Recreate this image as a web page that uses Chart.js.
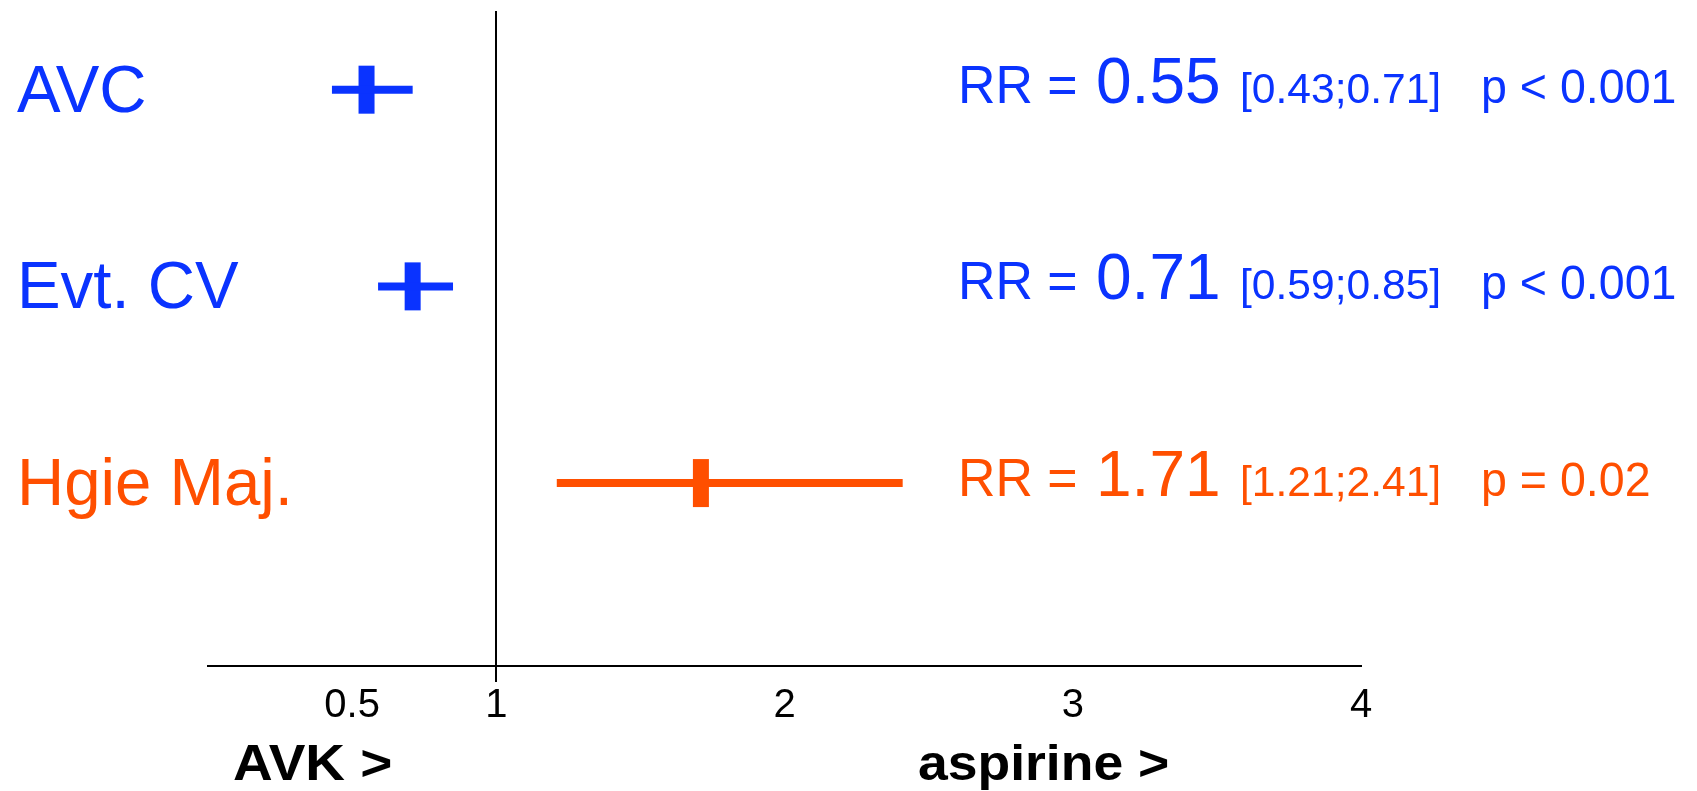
<!DOCTYPE html>
<html>
<head>
<meta charset="utf-8">
<title>RR AVK vs aspirine</title>
<script src="https://cdn.jsdelivr.net/npm/chart.js@4.4.1/dist/chart.umd.min.js"></script>
<style>
  html, body { margin: 0; padding: 0; background: #fff; }
  canvas { display: block; }
</style>
</head>
<body>
<canvas id="forestChart" width="1697" height="791"></canvas>
<script>
const categories = ['AVC', 'Evt. CV', 'Hgie Maj.'];
const rowPos = [3, 2, 1];
const rr = [0.55, 0.71, 1.71];
const ciLow = [0.43, 0.59, 1.21];
const ciHigh = [0.71, 0.85, 2.41];
const pTexts = ['p < 0.001', 'p < 0.001', 'p = 0.02'];
const tickValues = [0.5, 1, 2, 3, 4];
const leftLabel = 'AVK >';
const rightLabel = 'aspirine >';

const BLUE = '#0a33ff';
const ORANGE = '#ff4f00';
const rowColors = [BLUE, BLUE, ORANGE];
const FONT = "'Liberation Sans', Arial, sans-serif";

// text is a bit condensed in the original, so squeeze it horizontally
function drawText(ctx, text, x, y, font, sx) {
  ctx.save();
  ctx.translate(x, y);
  ctx.scale(sx, 1);
  ctx.font = font;
  ctx.fillText(text, 0, 0);
  ctx.restore();
}

// reference line at RR = 1, row labels and the RR text on the right
const forestText = {
  id: 'forestText',
  beforeDatasetsDraw(chart) {
    const { ctx, chartArea, scales } = chart;
    const x1 = Math.round(scales.x.getPixelForValue(1));
    ctx.save();
    ctx.strokeStyle = '#000';
    ctx.lineWidth = 2;
    ctx.beginPath();
    ctx.moveTo(x1, chartArea.top);
    ctx.lineTo(x1, chartArea.bottom + 16);
    ctx.stroke();
    ctx.restore();
  },
  afterDraw(chart) {
    const { ctx, scales } = chart;
    ctx.save();
    ctx.textBaseline = 'alphabetic';
    ctx.textAlign = 'left';
    categories.forEach((name, i) => {
      const y = scales.y.getPixelForValue(rowPos[i]);
      ctx.fillStyle = rowColors[i];
      drawText(ctx, name, 17, y + 22, '66px ' + FONT, 0.99);
      drawText(ctx, 'RR =', 958, y + 13, '54px ' + FONT, 0.96);
      drawText(ctx, rr[i].toFixed(2), 1096, y + 13, '64px ' + FONT, 1.0);
      drawText(ctx, '[' + ciLow[i].toFixed(2) + ';' + ciHigh[i].toFixed(2) + ']', 1240, y + 13, '43px ' + FONT, 0.99);
      drawText(ctx, pTexts[i], 1481, y + 13, '48px ' + FONT, 0.97);
    });

    ctx.fillStyle = '#000';
    drawText(ctx, leftLabel, 233, 780, 'bold 50px ' + FONT, 1.1);
    drawText(ctx, rightLabel, 918, 780, 'bold 50px ' + FONT, 1.07);
    ctx.restore();
  }
};

const datasets = [];
categories.forEach((name, i) => {
  datasets.push({
    type: 'line',
    label: name + ' IC',
    data: [{ x: ciLow[i], y: rowPos[i] }, { x: ciHigh[i], y: rowPos[i] }],
    borderColor: rowColors[i],
    borderWidth: 8,
    borderCapStyle: 'butt',
    pointRadius: 0,
    fill: false
  });
});
datasets.push({
  type: 'scatter',
  label: 'RR',
  data: rr.map((v, i) => ({ x: v, y: rowPos[i] })),
  pointStyle: 'line',
  pointRotation: 90,
  pointRadius: 24,
  pointHoverRadius: 24,
  pointBorderWidth: 16,
  pointBorderColor: rowColors,
  pointBackgroundColor: rowColors
});

new Chart(document.getElementById('forestChart'), {
  type: 'scatter',
  data: { datasets: datasets },
  plugins: [forestText],
  options: {
    responsive: false,
    animation: false,
    layout: {
      autoPadding: false,
      padding: { left: 208, right: 336, top: 11, bottom: 0 }
    },
    plugins: {
      legend: { display: false },
      tooltip: { enabled: false }
    },
    scales: {
      x: {
        type: 'linear',
        min: 0,
        max: 4,
        afterBuildTicks: (scale) => {
          scale.ticks = tickValues.map(v => ({ value: v }));
        },
        afterFit: (scale) => { scale.height = 125; },
        grid: { display: false, drawTicks: false },
        border: { display: true, color: '#000', width: 2 },
        ticks: {
          padding: 16,
          color: '#000',
          font: { family: FONT, size: 40 },
          autoSkip: false,
          maxRotation: 0,
          callback: (v) => String(v)
        }
      },
      y: {
        type: 'linear',
        display: false,
        min: 0.07,
        max: 3.4
      }
    }
  }
});
</script>
</body>
</html>
